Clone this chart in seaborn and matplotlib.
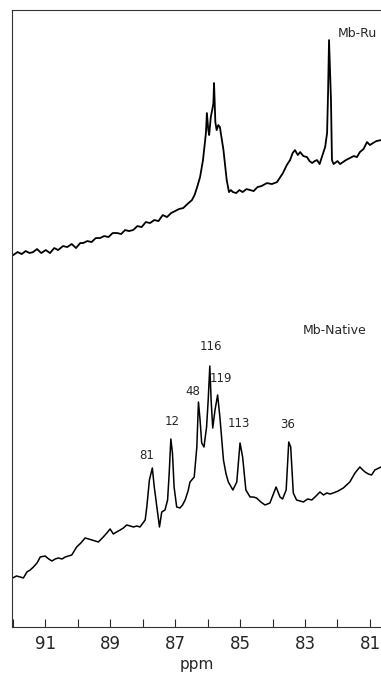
import numpy as np
import pandas as pd
import matplotlib
matplotlib.use("Agg")
import matplotlib.pyplot as plt
import seaborn as sns

# Spectrum of Mb-Ru (upper trace), ppm vs. intensity (arbitrary units)
ru_ppm = [91.98, 91.85, 91.72, 91.60, 91.48, 91.37, 91.25, 91.12, 90.98, 90.85, 90.72,
          90.60, 90.45, 90.32, 90.18, 90.05, 89.92, 89.83, 89.70, 89.57, 89.44, 89.31,
          89.18, 89.05, 88.92, 88.78, 88.66, 88.54, 88.42, 88.29, 88.16, 88.03, 87.90,
          87.77, 87.64, 87.51, 87.38, 87.25, 87.12, 87.00, 86.88, 86.75, 86.62, 86.48,
          86.40, 86.32, 86.23, 86.14, 86.05, 86.02, 85.98, 85.95, 85.90, 85.84, 85.82,
          85.80, 85.76, 85.72, 85.67, 85.62, 85.51, 85.41, 85.34, 85.28, 85.22, 85.12,
          85.02, 84.92, 84.80, 84.69, 84.58, 84.46, 84.34, 84.17, 84.02, 83.86, 83.68,
          83.56, 83.46, 83.38, 83.31, 83.22, 83.15, 83.05, 82.94, 82.86, 82.78, 82.70,
          82.63, 82.55, 82.48, 82.38, 82.32, 82.29, 82.26, 82.22, 82.20, 82.17, 82.12,
          82.08, 82.00, 81.92, 81.83, 81.74, 81.62, 81.50, 81.40, 81.31, 81.20, 81.09,
          81.00, 80.91, 80.80, 80.66]
ru_int = [372, 375, 373, 376, 374, 375, 378, 374, 377, 374, 379,
          377, 381, 380, 383, 379, 384, 384, 386, 385, 389, 389,
          391, 390, 394, 394, 393, 397, 396, 397, 401, 400, 405,
          404, 407, 406, 412, 410, 414, 416, 418, 419, 423, 427,
          432, 440, 450, 467, 494, 514, 498, 492, 510, 520, 524,
          544, 505, 497, 502, 500, 477, 447, 435, 437, 435, 434,
          437, 435, 438, 437, 436, 440, 441, 444, 443, 445, 454,
          462, 467, 474, 477, 472, 475, 471, 470, 466, 464, 466,
          467, 463, 470, 480, 494, 534, 587, 547, 527, 467, 463,
          464, 466, 463, 465, 467, 469, 471, 470, 475, 478, 485,
          482, 484, 486, 487]

# Spectrum of native Mb (lower trace)
nat_ppm = [92.00, 91.88, 91.77, 91.67, 91.56, 91.46, 91.36, 91.25, 91.15, 91.00, 90.89,
           90.79, 90.69, 90.59, 90.48, 90.38, 90.28, 90.18, 90.03, 89.90, 89.77, 89.66,
           89.56, 89.46, 89.36, 89.21, 89.10, 89.00, 88.90, 88.80, 88.69, 88.59, 88.49,
           88.38, 88.28, 88.18, 88.08, 87.92, 87.87, 87.79, 87.70, 87.64, 87.56, 87.48,
           87.41, 87.31, 87.23, 87.18, 87.13, 87.08, 87.03, 86.95, 86.85, 86.77, 86.69,
           86.60, 86.54, 86.41, 86.33, 86.28, 86.23, 86.18, 86.11, 86.03, 85.98, 85.93,
           85.89, 85.84, 85.77, 85.69, 85.62, 85.51, 85.43, 85.36, 85.22, 85.10, 85.00,
           84.92, 84.82, 84.69, 84.59, 84.49, 84.36, 84.23, 84.08, 83.89, 83.77, 83.69,
           83.58, 83.50, 83.44, 83.36, 83.26, 83.15, 83.05, 82.92, 82.79, 82.66, 82.54,
           82.43, 82.33, 82.23, 82.13, 81.98, 81.82, 81.62, 81.46, 81.31, 81.22, 81.15,
           81.05, 80.95, 80.85, 80.66]
nat_int = [49, 51, 50, 49, 55, 57, 60, 64, 70, 71, 68,
           66, 68, 69, 68, 70, 71, 72, 80, 84, 89, 88,
           87, 86, 85, 90, 94, 98, 93, 95, 97, 99, 102,
           101, 100, 101, 100, 107, 120, 147, 159, 140, 120, 100,
           115, 117, 127, 154, 188, 174, 140, 120, 119, 122, 127,
           136, 145, 150, 180, 225, 207, 184, 180, 200, 227, 261,
           227, 199, 217, 232, 210, 167, 153, 145, 137, 145, 184,
           170, 137, 130, 130, 129, 125, 122, 124, 140, 130, 128,
           137, 185, 180, 134, 127, 126, 125, 128, 127, 131, 135,
           132, 134, 133, 134, 136, 139, 145, 154, 160, 157, 155,
           153, 152, 157, 160]

peak_labels = ["81", "12", "48", "116", "119", "113", "36"]
label_ppm = [87.86, 87.09, 86.45, 85.89, 85.58, 85.03, 83.52]
label_int = [165, 199, 229, 274, 242, 197, 196]

trace_names = ["Mb-Ru", "Mb-Native"]
name_ppm = [81.40, 82.08]
name_int = [594, 297]

sns.set_style("white")
plt.rcParams['font.family'] = ['DejaVu Sans']

fig = plt.figure(figsize=(3.81, 6.73), dpi=100)
ax = fig.add_axes([0.0315, 0.0684, 0.9685, 0.9166])

ru = pd.DataFrame({'ppm': ru_ppm, 'intensity': ru_int})
nat = pd.DataFrame({'ppm': nat_ppm, 'intensity': nat_int})
sns.lineplot(data=ru, x='ppm', y='intensity', ax=ax, color='black', linewidth=1.3,
             estimator=None, sort=False)
sns.lineplot(data=nat, x='ppm', y='intensity', ax=ax, color='black', linewidth=1.1,
             estimator=None, sort=False)

# residue numbers above the native peaks
for lab, px, py in zip(peak_labels, label_ppm, label_int):
    ax.text(px, py, lab, ha='center', va='bottom', fontsize=8.5)
for lab, px, py in zip(trace_names, name_ppm, name_int):
    ax.text(px, py, lab, ha='center', va='center', fontsize=9)

ax.set_xlim(92.02, 80.66)
ax.set_ylim(0, 617)
ax.set_xticks([91, 89, 87, 85, 83, 81])
ax.set_xticks([92, 90, 88, 86, 84, 82], minor=True)
ax.set_yticks([])
ax.tick_params(axis='x', which='both', direction='in', length=6, width=0.8,
               labelsize=12, pad=6, bottom=True)
ax.set_xlabel('ppm', fontsize=11, labelpad=3)
ax.set_ylabel('')
for side in ['left', 'top', 'bottom']:
    ax.spines[side].set_color('#333333')
    ax.spines[side].set_linewidth(0.8)
ax.spines['right'].set_visible(False)

fig.savefig('out.png', dpi=100)
